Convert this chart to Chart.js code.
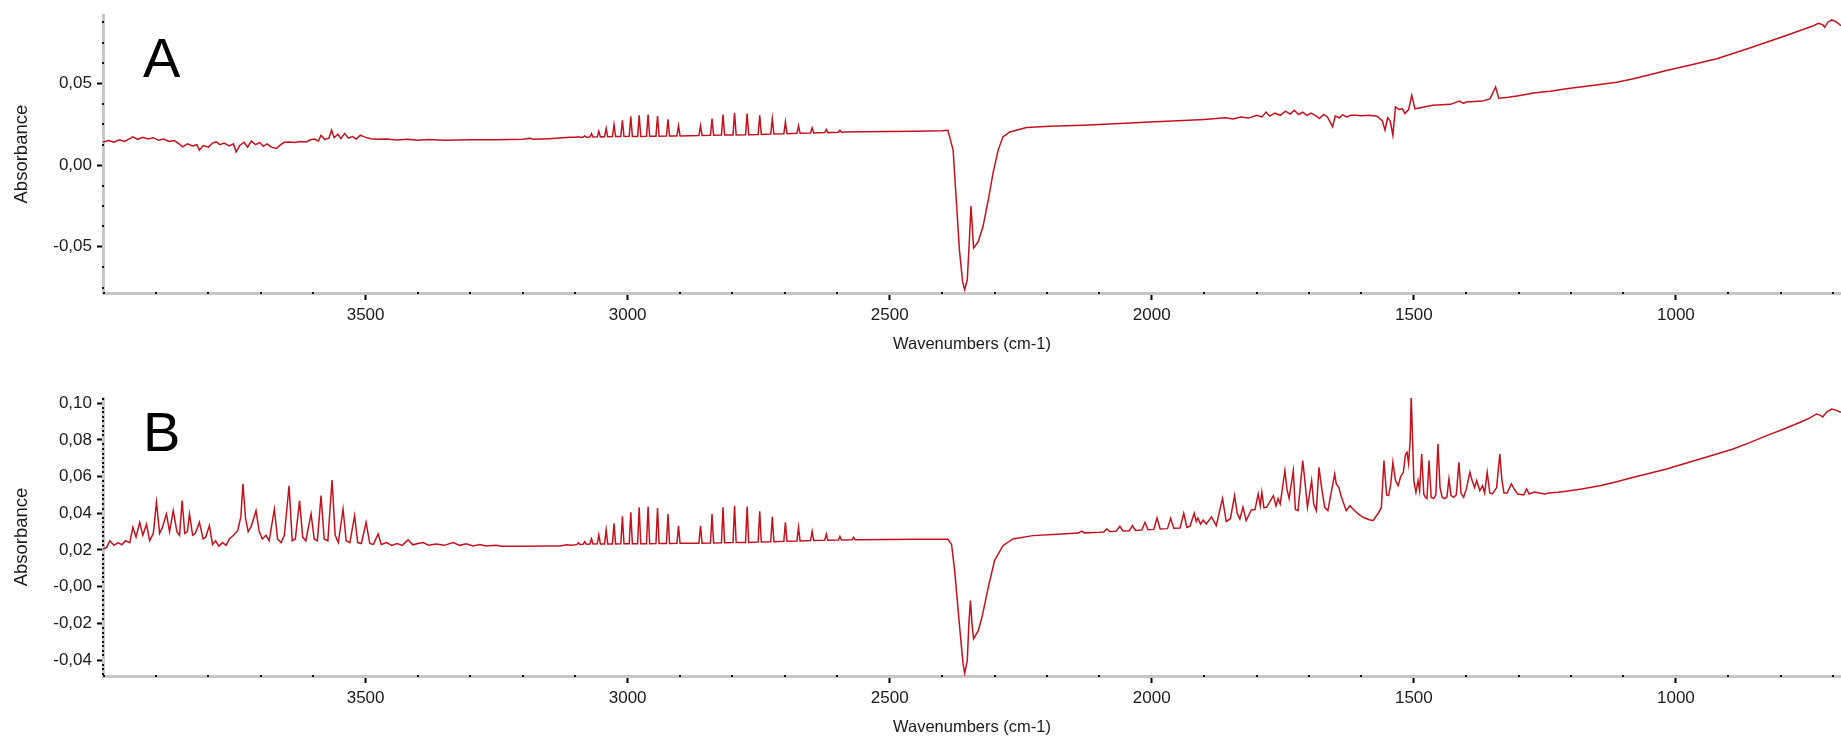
<!DOCTYPE html>
<html><head><meta charset="utf-8">
<script src="https://cdn.jsdelivr.net/npm/chart.js@4.4.1/dist/chart.umd.min.js"></script>
<style>
html,body{margin:0;padding:0;background:#fff;overflow:hidden}
#wrap{position:relative;width:1841px;height:737px;background:#fff}
.panel{position:absolute;left:0;width:1841px}
.tag{position:absolute;font-family:'Liberation Sans',Arial,sans-serif;font-size:56px;line-height:56px;color:#000}
</style></head><body>
<div id="wrap">
  <div class="panel" style="top:0;height:370px"><canvas id="chartA"></canvas></div>
  <div class="panel" style="top:370px;height:367px"><canvas id="chartB"></canvas></div>
  <div class="tag" style="left:143px;top:30px">A</div>
  <div class="tag" style="left:143px;top:404px">B</div>
</div>
<script>
// ---------- data: spectrum A ----------
const wavenumbersA = [
 4001,3990,3980,3970,3960,3950,3944,3935,3925,3915,
 3905,3895,3885,3875,3865,3855,3849,3840,3830,3822,
 3817,3810,3800,3792,3785,3778,3770,3760,3752,3747,
 3740,3732,3725,3718,3710,3702,3695,3688,3680,3670,
 3662,3655,3645,3635,3625,3613,3605,3597,3590,3585,
 3578,3570,3565,3560,3553,3547,3540,3533,3525,3518,
 3510,3500,3490,3480,3460,3440,3420,3400,3380,3350,
 3300,3250,3200,3187,3180,3150,
 3110,3098,3095,3092,3085,3082,3079,3072,3069,3066,
 3058,3055,3052,3044,3041,3038,3029,3026,3023,3013,
 3010,3007,2997,2994,2991,2981,2978,2975,2964,2961,
 2958,2946,2943,2940,2926,2923,2920,2906,2903,2900,
 2864,2861,2858,2842,2839,2836,2821,2818,2815,2799,
 2796,2793,2775,2772,2769,2751,2748,2745,2727,2724,
 2721,2702,2699,2696,2677,2674,2671,2651,2648,2645,
 2624,2621,2618,2598,2595,2592,2585,2550,2500,2450,
 2400,2389,2379,2373,2367,2361,2357,2352,2348,2345,
 2343,2340,2331,2322,2312,2303,2293,2284,2271,2239,
 2195,2132,2050,2004,1950,1900,1877,1860,
 1845,1830,1815,1800,1790,1782,1775,1765,1755,1745,
 1736,1728,1720,1712,1704,1696,1686,1680,1672,1665,
 1659,1655,1650,1642,1636,1628,1620,1610,1600,1585,
 1570,1560,1555,1550,1545,1540,1535,1528,1522,1517,
 1510,1504,1498,1490,1464,1430,1413,1405,1400,1370,
 1355,1344,1338,1320,1300,1272,1240,1209,1160,1113,
 1081,1050,1018,970,922,875,827,795,763,740,
 728,720,716,710,703,695,685
];
const absorbanceA = [
 0.0142,0.0150,0.0140,0.0155,0.0145,0.0162,0.0173,0.0158,0.0170,0.0160,
 0.0168,0.0152,0.0160,0.0145,0.0150,0.0128,0.0112,0.0130,0.0118,0.0125,
 0.0092,0.0120,0.0110,0.0135,0.0142,0.0125,0.0135,0.0118,0.0130,0.0081,
 0.0120,0.0140,0.0110,0.0148,0.0125,0.0138,0.0115,0.0130,0.0110,0.0102,
 0.0125,0.0140,0.0142,0.0138,0.0145,0.0142,0.0155,0.0160,0.0148,0.0183,
 0.0158,0.0165,0.0214,0.0168,0.0190,0.0162,0.0194,0.0165,0.0175,0.0160,
 0.0183,0.0170,0.0162,0.0158,0.0160,0.0154,0.0158,0.0152,0.0157,0.0153,
 0.0155,0.0156,0.0158,0.0165,0.0158,0.0162,
 0.0170,0.0170,0.0175,0.0170,0.0171,0.0180,0.0171,0.0172,0.0193,0.0172,
 0.0173,0.0207,0.0173,0.0174,0.0224,0.0174,0.0175,0.0248,0.0175,0.0175,
 0.0275,0.0175,0.0176,0.0299,0.0176,0.0176,0.0305,0.0176,0.0177,0.0309,
 0.0177,0.0177,0.0301,0.0177,0.0178,0.0281,0.0178,0.0179,0.0240,0.0179,
 0.0182,0.0240,0.0182,0.0183,0.0285,0.0183,0.0184,0.0309,0.0184,0.0185,
 0.0321,0.0185,0.0186,0.0315,0.0186,0.0188,0.0305,0.0188,0.0190,0.0285,
 0.0190,0.0192,0.0264,0.0192,0.0195,0.0240,0.0195,0.0197,0.0228,0.0197,
 0.0199,0.0218,0.0199,0.0201,0.0214,0.0201,0.0203,0.0204,0.0206,0.0207,
 0.0210,0.0213,0.0092,-0.0214,-0.0519,-0.0712,-0.0763,-0.0702,-0.0458,-0.0250,
 -0.0346,-0.0508,-0.0468,-0.0376,-0.0214,-0.0051,0.0092,0.0173,0.0203,0.0230,
 0.0238,0.0244,0.0256,0.0264,0.0272,0.0280,0.0285,0.0290,
 0.0283,0.0295,0.0288,0.0305,0.0295,0.0325,0.0300,0.0318,0.0305,0.0330,
 0.0312,0.0336,0.0310,0.0325,0.0305,0.0318,0.0300,0.0285,0.0310,0.0295,
 0.0260,0.0234,0.0300,0.0290,0.0308,0.0295,0.0305,0.0305,0.0303,0.0305,
 0.0300,0.0270,0.0214,0.0290,0.0270,0.0183,0.0356,0.0340,0.0346,0.0315,
 0.0340,0.0427,0.0345,0.0350,0.0366,0.0372,0.0392,0.0378,0.0386,0.0392,
 0.0405,0.0478,0.0410,0.0415,0.0425,0.0441,0.0452,0.0468,0.0488,0.0508,
 0.0529,0.0553,0.0580,0.0615,0.0651,0.0700,0.0752,0.0788,0.0824,0.0850,
 0.0868,0.0860,0.0844,0.0875,0.0889,0.0880,0.0854
];
// ---------- data: spectrum B ----------
const wavenumbersB = [
 4001,3994,3988,3980,3972,3965,3958,3950,3944,3938,
 3931,3925,3918,3912,3905,3899,3893,3888,3880,3874,
 3867,3860,3855,3850,3845,3840,3836,3830,3825,3817,
 3810,3805,3798,3792,3786,3780,3773,3766,3760,3752,
 3744,3738,3734,3729,3724,3718,3709,3703,3697,3690,
 3684,3674,3668,3661,3655,3646,3640,3634,3626,3620,
 3614,3604,3598,3592,3585,3579,3572,3564,3558,3552,
 3543,3537,3530,3521,3515,3508,3499,3492,3485,3476,
 3470,3460,3450,3440,3430,3419,3410,3400,3390,3380,
 3365,3350,3333,3320,3308,3295,3282,3270,3251,3240,
 3200,3150,3130,3115,3108,3100,3097,3094,3091,3085,
 3082,3079,3072,3069,3066,3058,3055,3052,3044,3041,
 3038,3029,3026,3023,3013,3010,3007,2997,2994,2991,
 2981,2978,2975,2964,2961,2958,2946,2943,2940,2926,
 2923,2920,2906,2903,2900,2864,2861,2858,2842,2839,
 2836,2821,2818,2815,2799,2796,2793,2775,2772,2769,
 2751,2748,2745,2727,2724,2721,2702,2699,2696,2677,
 2674,2671,2651,2648,2645,2624,2621,2618,2598,2595,
 2592,2572,2569,2566,2560,2500,
 2450,2389,2382,2376,2366,2360,2357,2352,2349,2346,
 2343,2340,2331,2324,2312,2300,2284,2265,2227,2180,
 2140,2134,2128,2100,2092,2086,2080,2068,2061,2055,
 2043,2037,2031,2019,2013,2007,1996,1990,1984,1970,
 1964,1958,1946,1939,1933,1927,1919,1915,1912,1907,
 1902,1896,1886,1877,1865,1858,1850,1842,1837,1832,
 1826,1820,1810,1803,1797,1793,1790,1786,1781,1768,
 1763,1759,1755,1746,1742,1738,1730,1726,1721,1712,
 1708,1703,1695,1691,1686,1681,1676,1670,1664,1651,
 1648,1643,1638,1629,1622,1616,1606,1597,1585,1578,
 1568,1562,1557,1552,1548,1544,1540,1535,1530,1525,
 1520,1516,1513,1510,1507,1505,1503,1500,1496,1492,
 1489,1485,1481,1478,1475,1471,1467,1462,1458,1454,
 1450,1446,1441,1437,1433,1429,1424,1419,1414,1410,
 1405,1400,1393,1389,1384,1380,1374,1369,1365,1360,
 1355,1350,1342,1336,1332,1328,1322,1314,1308,1302,
 1290,1285,1280,1270,1260,1250,1243,1225,1209,1180,
 1145,1113,1081,1050,1018,986,954,922,891,859,
 827,795,763,745,732,725,720,713,703,695,
 685
];
const absorbanceB = [
 0.0205,0.0214,0.0250,0.0225,0.0240,0.0228,0.0250,0.0240,0.0323,0.0270,
 0.0350,0.0280,0.0340,0.0250,0.0290,0.0460,0.0290,0.0320,0.0396,0.0300,
 0.0414,0.0300,0.0280,0.0469,0.0290,0.0300,0.0396,0.0280,0.0290,0.0350,
 0.0260,0.0270,0.0332,0.0230,0.0250,0.0220,0.0240,0.0225,0.0260,0.0280,
 0.0305,0.0380,0.0560,0.0370,0.0300,0.0330,0.0414,0.0300,0.0260,0.0280,
 0.0250,0.0423,0.0260,0.0240,0.0280,0.0550,0.0250,0.0260,0.0469,0.0270,
 0.0250,0.0396,0.0260,0.0250,0.0496,0.0260,0.0250,0.0581,0.0280,0.0240,
 0.0423,0.0250,0.0240,0.0387,0.0240,0.0235,0.0350,0.0235,0.0230,0.0287,
 0.0230,0.0240,0.0225,0.0235,0.0225,0.0255,0.0228,0.0235,0.0240,0.0226,
 0.0232,0.0225,0.0240,0.0225,0.0233,0.0222,0.0230,0.0222,0.0226,0.0220,
 0.0220,0.0221,0.0222,0.0228,0.0226,0.0228,0.0229,0.0240,0.0230,0.0231,
 0.0245,0.0231,0.0232,0.0260,0.0232,0.0233,0.0282,0.0233,0.0233,0.0309,
 0.0233,0.0233,0.0345,0.0233,0.0234,0.0383,0.0234,0.0234,0.0405,0.0234,
 0.0234,0.0432,0.0234,0.0234,0.0436,0.0234,0.0235,0.0429,0.0235,0.0235,
 0.0396,0.0235,0.0236,0.0332,0.0236,0.0237,0.0332,0.0237,0.0238,0.0396,
 0.0238,0.0239,0.0432,0.0239,0.0240,0.0441,0.0240,0.0241,0.0436,0.0241,
 0.0243,0.0410,0.0243,0.0245,0.0381,0.0245,0.0247,0.0350,0.0247,0.0249,
 0.0323,0.0249,0.0251,0.0301,0.0251,0.0253,0.0287,0.0253,0.0254,0.0274,
 0.0254,0.0255,0.0269,0.0255,0.0256,0.0257,
 0.0258,0.0258,0.0230,0.0087,-0.0240,-0.0421,-0.0472,-0.0403,-0.0203,-0.0076,
 -0.0203,-0.0285,-0.0240,-0.0167,-0.0004,0.0142,0.0223,0.0260,0.0278,0.0286,
 0.0292,0.0302,0.0293,0.0296,0.0298,0.0314,0.0300,0.0302,0.0329,0.0303,
 0.0305,0.0332,0.0306,0.0308,0.0350,0.0310,0.0312,0.0374,0.0314,0.0316,
 0.0372,0.0318,0.0320,0.0400,0.0323,0.0330,0.0400,0.0355,0.0374,0.0341,
 0.0363,0.0341,0.0380,0.0332,0.0481,0.0355,0.0370,0.0496,0.0400,0.0369,
 0.0434,0.0360,0.0418,0.0420,0.0505,0.0440,0.0514,0.0430,0.0432,0.0496,
 0.0440,0.0480,0.0450,0.0632,0.0530,0.0480,0.0632,0.0420,0.0414,0.0687,
 0.0580,0.0432,0.0578,0.0450,0.0414,0.0650,0.0540,0.0432,0.0414,0.0614,
 0.0560,0.0540,0.0487,0.0414,0.0441,0.0423,0.0396,0.0378,0.0365,0.0360,
 0.0400,0.0430,0.0687,0.0500,0.0496,0.0560,0.0678,0.0578,0.0550,0.0600,
 0.0623,0.0720,0.0732,0.0670,0.0800,0.1041,0.0850,0.0578,0.0514,0.0578,
 0.0523,0.0723,0.0505,0.0487,0.0480,0.0687,0.0487,0.0480,0.0500,0.0778,
 0.0540,0.0487,0.0480,0.0487,0.0587,0.0496,0.0487,0.0500,0.0678,0.0510,
 0.0487,0.0530,0.0623,0.0580,0.0540,0.0578,0.0523,0.0550,0.0510,0.0623,
 0.0510,0.0505,0.0540,0.0723,0.0580,0.0510,0.0510,0.0560,0.0530,0.0505,
 0.0500,0.0532,0.0505,0.0515,0.0510,0.0505,0.0510,0.0514,0.0520,0.0532,
 0.0550,0.0572,0.0596,0.0618,0.0641,0.0668,0.0696,0.0723,0.0750,0.0785,
 0.0823,0.0858,0.0896,0.0918,0.0941,0.0935,0.0925,0.0950,0.0968,0.0962,
 0.0950
];
// ---------- axes ----------
const xRange = [685, 4001];
const yRangeA = [-0.0783, 0.0918];
const yRangeB = [-0.0487, 0.1028];
const xMajorTicks = [3500, 3000, 2500, 2000, 1500, 1000];
const xMajorLabels = ['3500', '3000', '2500', '2000', '1500', '1000'];
const yMajorTicksA = [-0.05, 0, 0.05];
const yMajorLabelsA = ['-0,05', '0,00', '0,05'];
const yMajorTicksB = [-0.04, -0.02, 0, 0.02, 0.04, 0.06, 0.08, 0.10];
const yMajorLabelsB = ['-0,04', '-0,02', '-0,00', '0,02', '0,04', '0,06', '0,08', '0,10'];
const xMinorStep = 100, yMinorStepA = 0.0125, yMinorStepB = 0.0025;

function buildTicks(min, max, step, majors, labels) {
  const out = [];
  const n0 = Math.ceil(min / step - 1e-9), n1 = Math.floor(max / step + 1e-9);
  for (let n = n0; n <= n1; n++) {
    const v = +(n * step).toFixed(6);
    const k = majors.findIndex(m => Math.abs(m - v) < step * 0.01);
    out.push(k >= 0 ? {value: majors[k], isMajor: true, lbl: labels[k]} : {value: v, isMajor: false, lbl: ''});
  }
  return out;
}

const FONT = "'Liberation Sans', Arial, sans-serif";
const TEXT = '#1a1a1a';
const LINE = 'rgb(196,18,28)';

const minorDots = {
  id: 'minorDots',
  afterDraw(chart) {
    const {ctx, chartArea, scales} = chart;
    ctx.save();
    ctx.fillStyle = '#111';
    scales.x.ticks.forEach(t => {
      if (!t.isMajor) { const p = Math.round(scales.x.getPixelForValue(t.value)); ctx.fillRect(p - 1, Math.round(chartArea.bottom) - 1, 2, 2); }
    });
    scales.y.ticks.forEach(t => {
      if (!t.isMajor) { const p = Math.round(scales.y.getPixelForValue(t.value)); ctx.fillRect(Math.round(chartArea.left) - 1, p - 1, 2, 2); }
    });
    ctx.restore();
  }
};

function makeChart(id, wn, ab, yRange, yMajors, yLabels, yStep, padTop, xAxisH, xTitlePadB) {
  const xTicks = buildTicks(xRange[0], xRange[1], xMinorStep, xMajorTicks, xMajorLabels);
  const yTicks = buildTicks(yRange[0], yRange[1], yStep, yMajors, yLabels);
  const tickColor = c => (c.tick && c.tick.isMajor) ? '#000' : 'rgba(0,0,0,0)';
  return new Chart(document.getElementById(id), {
    type: 'line',
    data: { datasets: [{
      data: wn.map((w, i) => ({x: w, y: ab[i]})),
      borderColor: LINE, borderWidth: 1.5, pointRadius: 0, tension: 0, fill: false
    }]},
    options: {
      responsive: true, maintainAspectRatio: false, animation: false, events: [],
      layout: { padding: {top: padTop, right: 0, bottom: 0, left: 0} },
      plugins: { legend: {display: false}, tooltip: {enabled: false} },
      scales: {
        x: {
          type: 'linear', reverse: true, min: xRange[0], max: xRange[1],
          afterBuildTicks: s => { s.ticks = xTicks.map(t => Object.assign({}, t)); },
          afterFit: s => { s.height = xAxisH; },
          ticks: { autoSkip: false, maxRotation: 0, padding: 5, color: TEXT, font: {family: FONT, size: 17},
                   callback: (v, i, t) => t[i].isMajor ? t[i].lbl : '' },
          grid: { display: true, drawOnChartArea: false, drawTicks: true, tickLength: 7, tickWidth: 2, tickColor },
          border: { display: true, color: '#c6c6c6', width: 3 },
          title: { display: true, text: 'Wavenumbers (cm-1)', color: TEXT, font: {family: FONT, size: 16.5},
                   padding: {top: 0, bottom: xTitlePadB} }
        },
        y: {
          type: 'linear', min: yRange[0], max: yRange[1],
          afterBuildTicks: s => { s.ticks = yTicks.map(t => Object.assign({}, t)); },
          afterFit: s => { s.width = 103; },
          ticks: { autoSkip: false, padding: 5, color: TEXT, font: {family: FONT, size: 17},
                   callback: (v, i, t) => t[i].isMajor ? t[i].lbl : '' },
          grid: { display: true, drawOnChartArea: false, drawTicks: true, tickLength: 6, tickWidth: 2, tickColor },
          border: { display: true, color: '#c6c6c6', width: 3 },
          title: { display: true, text: 'Absorbance', color: TEXT, font: {family: FONT, size: 18.5},
                   padding: {top: 10.5, bottom: 0} }
        }
      }
    },
    plugins: [minorDots]
  });
}

makeChart('chartA', wavenumbersA, absorbanceA, yRangeA, yMajorTicksA, yMajorLabelsA, yMinorStepA, 15, 77, 16);
makeChart('chartB', wavenumbersB, absorbanceB, yRangeB, yMajorTicksB, yMajorLabelsB, yMinorStepB, 28, 61, 0);
</script>
</body></html>
